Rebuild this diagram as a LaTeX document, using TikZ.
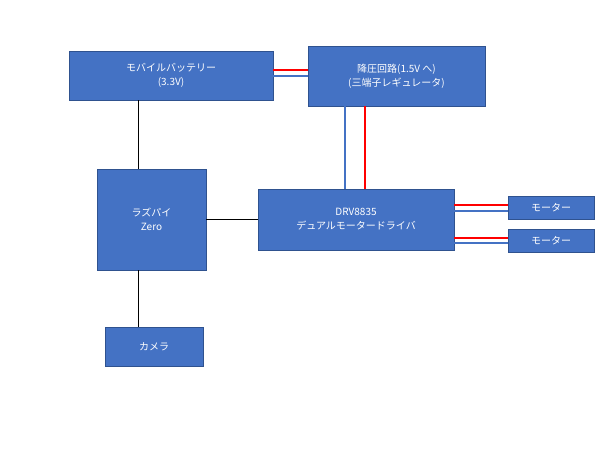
\documentclass[tikz,border=0pt]{standalone}
\usepackage{fontspec}
\setmainfont{Noto Sans CJK JP}
\usetikzlibrary{calc}
\definecolor{boxfill}{HTML}{4472C4}
\definecolor{boxline}{HTML}{2F528F}
\definecolor{wirered}{HTML}{FF0000}
\definecolor{wireblue}{HTML}{4472C4}
\tikzset{
  block/.style={draw=boxline, fill=boxfill, text=white, inner sep=0pt,
    align=center, font=\fontsize{10}{14}\selectfont, line width=0.8pt},
  sig/.style={line width=1.6pt, black},
  pwr/.style={line width=1.6pt, wirered},
  gnd/.style={line width=1.6pt, wireblue}
}
\begin{document}
\begin{tikzpicture}[x=1pt, y=-1pt]
  \useasboundingbox (0,0) rectangle (600,450);
  \node[block, minimum width=204pt, minimum height=49pt] (bat) at (171,75.5) {モバイルバッテリー\\(3.3V)};
  \node[block, minimum width=177pt, minimum height=60pt] (reg) at (396.5,76) {降圧回路(1.5V へ)\\(三端子レギュレータ)};
  \node[block, minimum width=109pt, minimum height=101pt] (pi) at (151.5,219.5) {ラズパイ\\Zero};
  \node[block, minimum width=196pt, minimum height=61pt] (drv) at (356,219.5) {DRV8835\\デュアルモータードライバ};
  \node[block, minimum width=86pt, minimum height=23pt] (mot1) at (551,207.5) {モーター};
  \node[block, minimum width=86pt, minimum height=23pt] (mot2) at (551,240.5) {モーター};
  \node[block, minimum width=98pt, minimum height=39pt] (cam) at (154,346.5) {カメラ};
  % power
  \draw[pwr] ([yshift=5.5pt]bat.east) -- ([yshift=5.5pt]bat.east -| reg.west);
  \draw[gnd] ([yshift=-0.5pt]bat.east) -- ([yshift=-0.5pt]bat.east -| reg.west);
  \draw[gnd] ([xshift=-51.5pt]reg.south) -- ([xshift=-51.5pt]reg.south |- drv.north);
  \draw[pwr] ([xshift=-31.5pt]reg.south) -- ([xshift=-31.5pt]reg.south |- drv.north);
  % motors
  \draw[pwr] ([yshift=14.5pt]drv.east) -- ([yshift=14.5pt]drv.east -| mot1.west);
  \draw[gnd] ([yshift=8.5pt]drv.east) -- ([yshift=8.5pt]drv.east -| mot1.west);
  \draw[pwr] ([yshift=-18.5pt]drv.east) -- ([yshift=-18.5pt]drv.east -| mot2.west);
  \draw[gnd] ([yshift=-23.5pt]drv.east) -- ([yshift=-23.5pt]drv.east -| mot2.west);
  % signals
  \draw[sig] (bat.south -| pi.north west) ++(42pt,0) coordinate (bt) -- (bt |- pi.north);
  \draw[sig] (pi.east) -- (pi.east -| drv.west);
  \draw[sig] (bt |- pi.south) -- (bt |- cam.north);
\end{tikzpicture}
\end{document}
